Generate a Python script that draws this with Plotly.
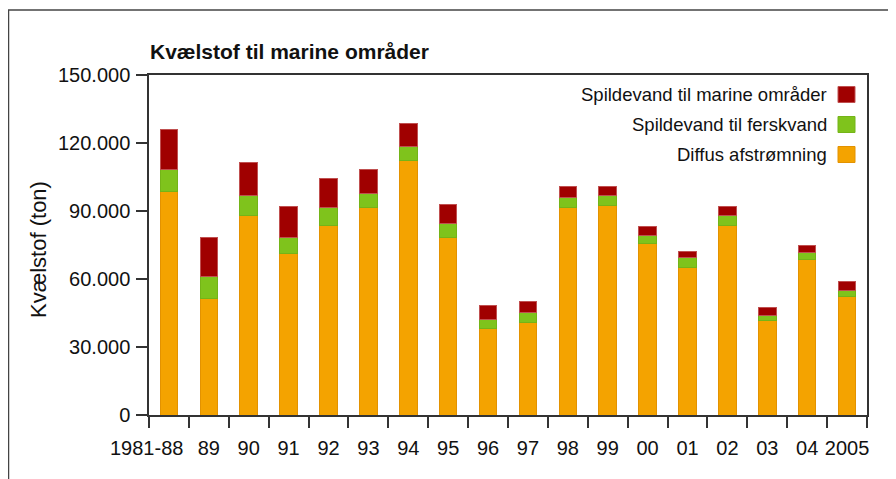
import plotly.graph_objects as go

categories = ["1981-88", "89", "90", "91", "92", "93", "94", "95", "96", "97",
              "98", "99", "00", "01", "02", "03", "04", "2005"]
tick_labels = ["", "89", "90", "91", "92", "93", "94", "95",
               "96", "97", "98", "99", "00", "01", "02", "03", "04", "2005"]
first_label = "1981-88"
diffus = [98800, 51300, 87900, 71200, 83500, 91600, 112200, 78200, 38100, 40700,
          91600, 92300, 75700, 65000, 83500, 41600, 68500, 52200]
ferskvand = [9700, 10000, 9000, 6900, 8100, 6200, 6200, 6200, 4250, 4400,
             4400, 4600, 3300, 4300, 4300, 2500, 3400, 2800]
marine = [17500, 17200, 14700, 13900, 12900, 10300, 10300, 8500, 5850, 5100,
          5000, 4100, 4100, 3000, 4200, 3400, 3100, 4000]

series = [
    ("Diffus afstrømning", diffus, "#F4A300", "#E39200"),
    ("Spildevand til ferskvand", ferskvand, "#7FC31C", "#74B418"),
    ("Spildevand til marine områder", marine, "#A00000", "#C05050"),
]

FONT = "Liberation Sans, Arial, Helvetica, sans-serif"
TXT = "#111111"
W, H = 896, 479
OFF = 8  # page body margin offset
L, R, T, B = 149 - OFF, 867 - OFF, 75 - OFF, 415 - OFF

def px(x):
    return (x - OFF - L) / (R - L)

def py(y):
    return (B - (y - OFF)) / (B - T)

fig = go.Figure()
for name, vals, col, edge in series:
    fig.add_trace(go.Bar(x=categories, y=vals, name=name,
                         marker=dict(color=col, line=dict(color=edge, width=1))))

axis_line = "#333333"
fig.update_layout(
    width=W, height=H,
    barmode="stack", bargap=0.56,
    showlegend=False,
    separators=",.",
    paper_bgcolor="white", plot_bgcolor="white",
    margin=dict(l=L, r=W - R, t=T, b=H - B, pad=0, autoexpand=False),
    font=dict(family=FONT, color=TXT),
    xaxis=dict(type="category", tickson="boundaries", ticks="outside", ticklen=11,
               tickwidth=1.5, tickcolor=axis_line, showline=True, linecolor=axis_line,
               linewidth=1.5, mirror=True, showgrid=False, tickangle=0,
               automargin=False, tickmode="array", tickvals=categories,
               ticktext=tick_labels, ticklabelstandoff=14,
               tickfont=dict(size=20, family=FONT, color=TXT)),
    yaxis=dict(range=[0, 150000], dtick=30000, tickformat=",d", ticks="outside",
               ticklen=11, tickwidth=1.5, tickcolor=axis_line, showline=True,
               linecolor=axis_line, linewidth=1.5, mirror=True, showgrid=False,
               zeroline=False, automargin=False, ticklabelstandoff=2,
               tickfont=dict(size=20, family=FONT, color=TXT)),
)

shapes = [
    dict(type="line", xref="paper", yref="paper", x0=px(8), x1=px(W + 20),
         y0=py(10), y1=py(10), line=dict(color="#444444", width=1.5)),
    dict(type="line", xref="paper", yref="paper", x0=px(8.5), x1=px(8.5),
         y0=py(10), y1=py(H + 20), line=dict(color="#444444", width=1.5)),
]
annotations = [
    dict(text="<b>Kvælstof til marine områder</b>", xref="paper", yref="paper",
         x=px(148), y=py(51), xanchor="left", yanchor="middle", showarrow=False,
         font=dict(size=21, family=FONT, color=TXT)),
    dict(text="Kvælstof (ton)", xref="paper", yref="paper", x=px(39), y=py(250),
         xanchor="center", yanchor="middle", textangle=-90, showarrow=False,
         font=dict(size=22, family=FONT, color=TXT)),
    dict(text=first_label, xref="paper", yref="paper", x=px(146),
         y=py(448), xanchor="center", yanchor="middle", showarrow=False,
         font=dict(size=20, family=FONT, color=TXT)),
]

legend_rows = [(series[2], 94.5), (series[1], 124.5), (series[0], 154.5)]
for (name, _, col, edge), yc in legend_rows:
    annotations.append(dict(text=name, xref="paper", yref="paper", x=px(829),
                            y=py(yc), xanchor="right", yanchor="middle",
                            showarrow=False,
                            font=dict(size=18.5, family=FONT, color=TXT)))
    shapes.append(dict(type="rect", xref="paper", yref="paper", x0=px(838),
                       x1=px(855), y0=py(yc - 8), y1=py(yc + 8),
                       fillcolor=col, line=dict(color=edge, width=1)))

fig.update_layout(shapes=shapes, annotations=annotations)
fig.write_html("out.html")
